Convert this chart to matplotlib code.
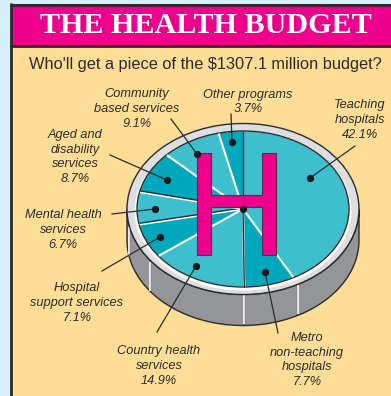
import numpy as np
import matplotlib
matplotlib.use('Agg')
import matplotlib.pyplot as plt
from matplotlib.patches import Rectangle, Ellipse, Polygon
from matplotlib.transforms import Affine2D

# budget slices, clockwise from 12 o'clock
names = ['Teaching\nhospitals', 'Metro\nnon-teaching\nhospitals', 'Country health\nservices',
         'Hospital\nsupport services', 'Mental health\nservices', 'Aged and\ndisability\nservices',
         'Community\nbased services', 'Other programs']
shares = [42.1, 7.7, 14.9, 7.1, 6.7, 8.7, 9.1, 3.7]

LIGHT = '#3dbfce'
DARK = '#00a8be'
INK = '#2b2b2b'
colours = [LIGHT, DARK, LIGHT, DARK, LIGHT, DARK, LIGHT, DARK]
# line between a slice and the next one
white_edge = [True, True, True, True, True, True, True, False]
dark_edge = [False, True, False, True, True, False, False, False]

W, H = 391, 396
dpi = 100
fig = plt.figure(figsize=(W / dpi, H / dpi), dpi=dpi, facecolor='#d5eefb')
ax = fig.add_axes([0, 0, 1, 1])


def Y(y):
    return H - y


# disc geometry in pixels
cx, cy = 243, Y(209)
rx_out, ry_out = 116, 85.5
rx_in, ry_in = 105.5, 77.5
depth = 31

# the pie itself, squashed to an ellipse
wedges, _ = ax.pie(shares, colors=colours, startangle=90, counterclock=False, radius=1,
                   wedgeprops={'linewidth': 0})
squash = Affine2D().scale(rx_in, ry_in).translate(cx, cy) + ax.transData
for w in wedges:
    w.set_transform(squash)
    w.set_zorder(6)
    w.set_clip_on(False)

ax.set_aspect('auto')
ax.set_xlim(0, W)
ax.set_ylim(0, H)
ax.axis('off')

# panel
ax.add_patch(Rectangle((12, 0), W - 12, Y(4), fc='#fedd96', ec='none', zorder=1))
ax.add_patch(Rectangle((12, Y(46)), W - 12, 42, fc='#ec008c', ec='none', zorder=1))
ax.plot([11.3, 11.3], [0, Y(3)], color=INK, lw=2.0, zorder=2, solid_capstyle='butt')
ax.plot([10, W], [Y(4.5), Y(4.5)], color=INK, lw=2.0, zorder=2, solid_capstyle='butt')
ax.plot([10, W], [Y(45.8), Y(45.8)], color=INK, lw=2.0, zorder=2, solid_capstyle='butt')

ax.text(206, Y(25.5), 'THE HEALTH BUDGET', family='Liberation Serif', weight='bold', fontsize=21.7,
        color='white', ha='center', va='center', zorder=3)
ax.text(205, Y(65), "Who'll get a piece of the \\$1307.1 million budget?", family='Liberation Sans',
        fontsize=11.8, color=INK, ha='center', va='center', zorder=3)

# side of the drum
t = np.linspace(np.pi, 2 * np.pi, 200)
xs = cx + rx_out * np.cos(t)
ys = cy + ry_out * np.sin(t)
side = np.column_stack([np.r_[xs, xs[::-1]], np.r_[ys, ys[::-1] - depth]])
ax.add_patch(Polygon(side, closed=True, fc='#939598', ec=INK, lw=1.0, zorder=3))

# rim
ax.add_patch(Ellipse((cx, cy), 2 * rx_out, 2 * ry_out, fc='#dcdee0', ec=INK, lw=1.0, zorder=4))
ax.add_patch(Ellipse((cx, cy - 2), 2 * rx_in + 6, 2 * ry_in + 4, fc='white', ec='none', zorder=4.5))
ax.add_patch(Ellipse((cx, cy), 2 * rx_in + 1, 2 * ry_in + 1, fc='none', ec=INK, lw=1.0, zorder=7))

# slice boundaries, carried over the side of the drum
bounds = np.cumsum(shares) / 100 * 2 * np.pi
for b, is_white, is_dark in zip(bounds, white_edge, dark_edge):
    ex, ey = np.sin(b), np.cos(b)
    x1, y1 = cx + rx_in * ex, cy + ry_in * ey
    if is_white:
        ax.plot([cx, x1], [cy, y1], color='white', lw=1.5, zorder=7, solid_capstyle='butt')
    if is_dark:
        off = -1.2 if ex < 0 else 1.2
        ax.plot([cx, x1], [cy - off, y1 - off], color=INK, lw=1.0, zorder=7, solid_capstyle='butt')
    if ey < 0.3:
        sx, sy = cx + rx_out * ex, cy + ry_out * ey
        ax.plot([sx - 0.8, sx - 0.8], [sy - 1, sy - depth + 1], color=INK, lw=0.8, zorder=3.5,
                solid_capstyle='butt')
        ax.plot([sx, sx], [sy - 1, sy - depth + 1], color='white', lw=1.2, zorder=3.6, solid_capstyle='butt')
ax.plot([cx, cx], [cy, cy + ry_in], color=INK, lw=1.0, zorder=7)

# the big H
h_shape = [(197, 153), (211, 153), (211, 195), (262, 195), (262, 153), (276, 153), (276, 255),
           (262, 255), (262, 207), (211, 207), (211, 255), (197, 255)]
ax.add_patch(Polygon([(x, Y(y)) for x, y in h_shape], closed=True, fc='#ec008c', ec='#5c2a4a',
                     lw=0.8, zorder=8))

# leader lines: label end then dot end
leaders = {
    'teaching': [(355, 146), (310, 178)],
    'metro': [(278, 333), (265, 272)],
    'country': [(157, 332), (196, 266)],
    'support': [(102, 271), (160, 237)],
    'mental': [(112, 214), (155, 209)],
    'aged': [(110, 155), (167, 180)],
    'community': [(171, 119), (197, 154)],
    'other': [(231, 114), (232, 142)],
    'centre': [(243, 209), (243, 209)],
}
for (x0, y0), (x1, y1) in leaders.values():
    ax.plot([x0, x1], [Y(y0), Y(y1)], color=INK, lw=0.9, zorder=9)
    ax.plot([x1], [Y(y1)], 'o', color='#1a1a1a', ms=4.2, zorder=10)

label_pos = [(360, 120), (307, 360), (159, 366), (77, 303), (63, 230), (75, 157), (137, 109), (248, 102)]
for name, share, (x, y) in zip(names, shares, label_pos):
    ax.text(x, Y(y), name + '\n%.1f%%' % share, family='Liberation Sans', style='italic', fontsize=9.2,
            color=INK, ha='center', va='center', linespacing=1.33, zorder=11)

fig.savefig('out.png', dpi=dpi, facecolor=fig.get_facecolor())
